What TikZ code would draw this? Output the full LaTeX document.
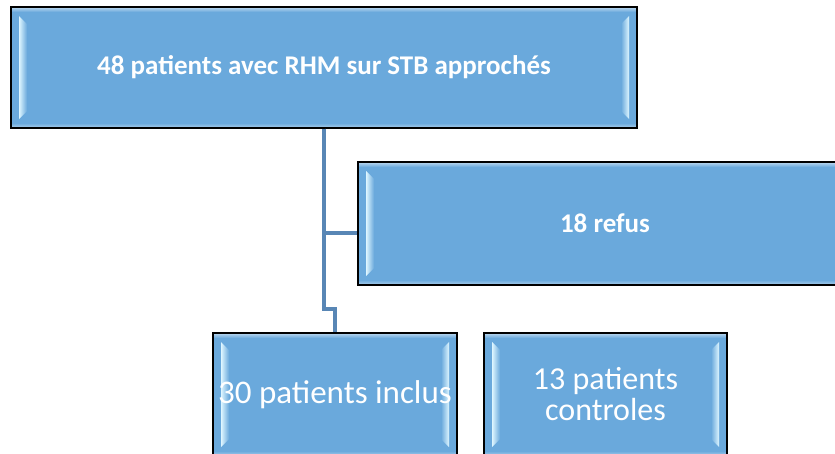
\documentclass[tikz,border=0pt]{standalone}
\usepackage{fontspec}
\setmainfont{Carlito}
\usetikzlibrary{calc}
\definecolor{boxblue}{RGB}{106,169,220}
\definecolor{bevellight}{RGB}{222,246,255}
\definecolor{linkblue}{RGB}{88,134,181}
\tikzset{
  bluebox/.style={draw=black, line width=1.4pt, fill=boxblue, text=white,
    inner sep=0pt, align=center,
    path picture={
      \coordinate (nw) at (path picture bounding box.north west);
      \coordinate (ne) at (path picture bounding box.north east);
      \coordinate (sw) at (path picture bounding box.south west);
      \coordinate (se) at (path picture bounding box.south east);
      % top and bottom rims
      \shade[top color=boxblue!45!white, bottom color=boxblue] (nw) rectangle ($(ne)+(0,5)$);
      \shade[bottom color=boxblue!55!white, top color=boxblue] (sw) rectangle ($(se)+(0,-5)$);
      % side bevels
      \shade[left color=bevellight, right color=boxblue]
        ($(nw)+(8,9)$) -- ($(nw)+(16,17)$) -- ($(sw)+(16,-17)$) -- ($(sw)+(8,-9)$) -- cycle;
      \shade[right color=bevellight, left color=boxblue]
        ($(ne)+(-8,9)$) -- ($(ne)+(-16,17)$) -- ($(se)+(-16,-17)$) -- ($(se)+(-8,-9)$) -- cycle;
    }},
  link/.style={draw=linkblue, line width=3.2pt}
}
\begin{document}
\begin{tikzpicture}[x=1pt,y=-1pt]
\useasboundingbox (0,0) rectangle (835,453);
\clip (0,0) rectangle (835,453);
\node[bluebox, minimum width=626pt, minimum height=121pt, font=\bfseries\fontsize{27}{32}\selectfont] (top) at (324,67.5) {48 patients avec RHM sur STB approchés};
\node[bluebox, minimum width=494pt, minimum height=123pt, font=\bfseries\fontsize{27}{32}\selectfont] (refus) at (605,223.5) {18 refus};
\node[bluebox, minimum width=244pt, minimum height=123pt, font=\fontsize{33}{34}\selectfont] (inclus) at (335,394.5) {30 patients inclus};
\node[bluebox, minimum width=243pt, minimum height=123pt, font=\fontsize{32}{31}\selectfont] (controles) at (605.5,394.5) {13 patients\\controles};
\coordinate (jog) at (0,309);
\draw[link] (top.south) |- ([yshift=-9.5pt]refus.west);
\draw[link] (top.south) -- (top.south |- jog) -| (inclus.north);
\end{tikzpicture}
\end{document}
